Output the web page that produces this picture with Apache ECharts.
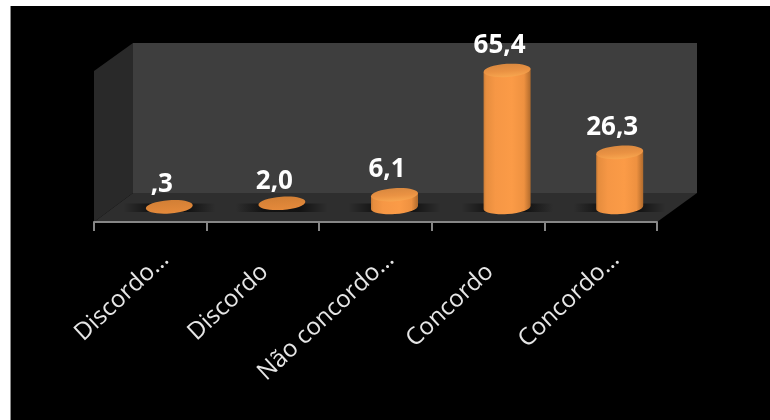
<!DOCTYPE html>
<html><head><meta charset="utf-8">
<style>html,body{margin:0;padding:0;background:#fff}#c{width:770px;height:420px}</style>
<script src="https://cdn.jsdelivr.net/npm/echarts@6/dist/echarts.min.js"></script>
</head><body><div id="c"></div>
<script>
const categories = ['Discordo…','Discordo','Não concordo…','Concordo','Concordo…'];
const values = [0.3,2.0,6.1,65.4,26.3];

const chart = echarts.init(document.getElementById('c'),null,{renderer:'canvas'});
const bodyGrad = new echarts.graphic.LinearGradient(0,0,1,0,[
  {offset:0,color:'#c67a36'},{offset:0.05,color:'#e68d3e'},{offset:0.25,color:'#f69745'},
  {offset:0.6,color:'#fb9b47'},{offset:0.86,color:'#ee9140'},{offset:1,color:'#b06a2c'}]);
const topGrad = new echarts.graphic.LinearGradient(0,0,0,1,[
  {offset:0,color:'#d9883f'},{offset:0.55,color:'#ea9243'},{offset:1,color:'#f8a64f'}]);
const flatGrad = new echarts.graphic.LinearGradient(0,0,0,1,[
  {offset:0,color:'#d27f35'},{offset:1,color:'#e58a3b'}]);
const shadowGrad = new echarts.graphic.LinearGradient(0,0,1,0,[
  {offset:0,color:'rgba(0,0,0,0)'},{offset:0.3,color:'rgba(0,0,0,0.6)'},
  {offset:0.7,color:'rgba(0,0,0,0.6)'},{offset:1,color:'rgba(0,0,0,0)'}]);
const DX = 4, RX = 23.5, RY = 6.6, TILT = 4*Math.PI/180;
const fmt = v => v.toFixed(1).replace('.',',').replace(/^0/,'');

function renderCylinder(params, api){
  const v = api.value(1);
  const base = api.coord([api.value(0),0]);
  const top = api.coord([api.value(0),v]);
  const cx = base[0]+DX, by = base[1], ty = top[1];
  const dy = RX*Math.sin(TILT);
  const h = by-ty;
  const children = [
    {type:'rect',shape:{x:cx-46,y:by-4,width:92,height:8.5},style:{fill:shadowGrad}}
  ];
  if(h>5){
    children.push({type:'path',shape:{
      pathData:`M${cx-RX} ${ty+dy} L${cx-RX} ${by+dy} A${RX} ${RY} -4 0 0 ${cx+RX} ${by-dy} L${cx+RX} ${ty-dy} Z`},
      style:{fill:bodyGrad}});
  }
  children.push({type:'ellipse',shape:{cx:0,cy:0,rx:RX,ry:RY},x:cx,y:ty,rotation:TILT,
    style:{fill:h>5?topGrad:flatGrad}});
  children.push({type:'text',x:cx-7.5,y:ty-(h>5?25:22),style:{text:fmt(v),fill:'#fff',
    font:'bold 26px "Open Sans"',align:'center',verticalAlign:'middle'}});
  return {type:'group',children:children};
}

chart.setOption({
  backgroundColor:'#fff',
  animation:false,
  graphic:{elements:[
    {type:'rect',shape:{x:10,y:6,width:760,height:414},style:{fill:'#000'},z:-10},
    {type:'rect',shape:{x:10,y:6,width:1,height:414},style:{fill:'#8a8a8a'},z:-9},
    {type:'polygon',shape:{points:[[133,43],[697,43],[697,193],[133,193]]},style:{fill:'#3e3e3e'},z:-8},
    {type:'polygon',shape:{points:[[94,71],[133,43],[133,193],[94,222]]},style:{fill:'#292929'},z:-8},
    {type:'polygon',shape:{points:[[133,193],[697,193],[657,222],[94,222]]},style:{fill:'#2e2e2e'},z:-8}
  ]},
  grid:[
    {left:94,width:563,top:44,height:163.5},
    {left:109,width:563,top:44,height:163.5}
  ],
  xAxis:[
    {type:'category',gridIndex:0,data:categories,offset:14.5,
      axisLine:{show:true,onZero:false,lineStyle:{color:'#868686',width:2}},
      axisTick:{show:true,interval:0,alignWithLabel:false,length:9,lineStyle:{color:'#868686',width:2}},
      axisLabel:{show:false},splitLine:{show:false}},
    {type:'category',gridIndex:1,offset:14.5,
      data:categories.map(c=>({value:c,textStyle:{padding:[0,c.endsWith('…')?0:18,0,0]}})),
      axisLine:{show:false,onZero:false},axisTick:{show:false},
      axisLabel:{interval:0,rotate:43,color:'#e6e6e6',fontFamily:'Open Sans',fontSize:24,margin:34},
      splitLine:{show:false}}
  ],
  yAxis:[
    {type:'value',gridIndex:0,min:0,max:78,show:false,splitLine:{show:false}},
    {type:'value',gridIndex:1,min:0,max:78,show:false,splitLine:{show:false}}
  ],
  series:[{type:'custom',coordinateSystem:'cartesian2d',xAxisIndex:1,yAxisIndex:1,clip:false,
    data:categories.map((c,i)=>[i,values[i]]),
    encode:{x:0,y:1},renderItem:renderCylinder}]
});
</script></body></html>
